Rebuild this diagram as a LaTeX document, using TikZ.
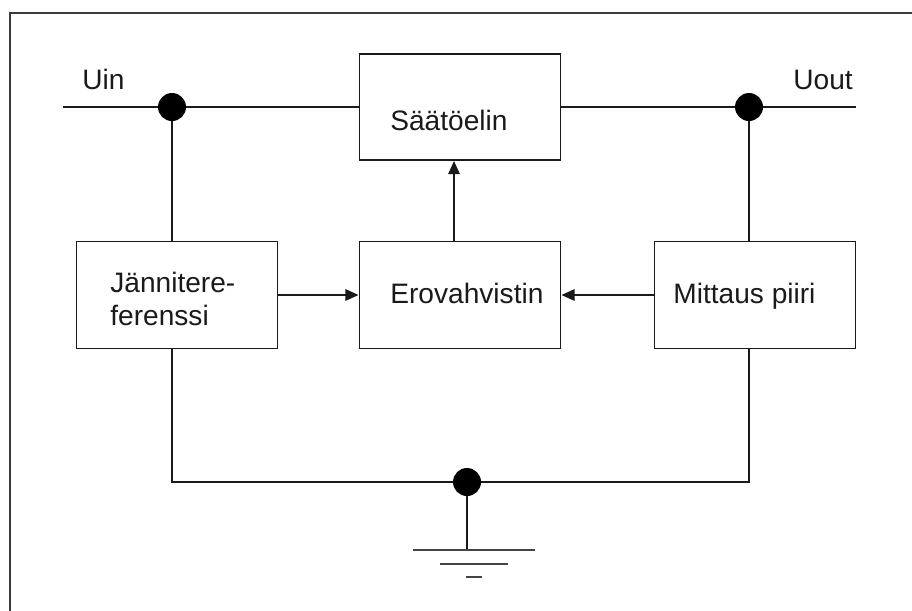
\documentclass[tikz,border=0pt]{standalone}
\usepackage{fontspec}
\setmainfont{Liberation Sans}
\usetikzlibrary{arrows.meta}
\definecolor{wireblack}{HTML}{1A1A1A}
\definecolor{framegray}{HTML}{3A3A3A}
\definecolor{groundgray}{HTML}{444444}

\begin{document}
\begin{tikzpicture}[
  x=0.02cm, y=-0.02cm,
  every node/.style={font=\fontsize{16}{18.8}\selectfont},
  wire/.style={draw=wireblack,line width=1.1pt},
  flow/.style={wire,-{Triangle[length=7.5pt,width=6.5pt]}},
  block/.style={draw=wireblack,line width=1.1pt,minimum width=4.02cm,
    minimum height=2.14cm,inner sep=0pt},
  junction/.style={circle,fill=black,minimum size=0.56cm,inner sep=0pt},
  ground/.style={draw=groundgray,line width=1.6pt},
  lbl/.style={anchor=base west,inner sep=0pt,text=wireblack}
]

% ---- canvas ----
\useasboundingbox (0,0) rectangle (912,610);
\draw[framegray,line width=1.2pt] (10,620) -- (10,13) -- (920,13);

% ---- blocks ----
\node[block,minimum height=2.12cm] (saato) at (460,107) {};
\node[block] (ero)     at (460,295) {};
\node[block] (jannite) at (177,295) {};
\node[block] (mittaus) at (755,295) {};

\node[lbl] (tsaato)    at (390,130) {Säätöelin};
\node[lbl] (tero)      at (390,303) {Erovahvistin};
\node[lbl] (tjannite1) at (110,292) {Jännitere-};
\node[lbl] (tjannite2) at (110,325) {ferenssi};
\node[lbl] (tmittaus)  at (673,303) {Mittaus piiri};

% ---- terminals and junctions ----
\coordinate (uin)  at (63,107);
\coordinate (uout) at (856,107);
\node[lbl] (tuin)  at (82,89)  {Uin};
\node[lbl] (tuout) at (793,89) {Uout};

\node[junction] (jin)  at (172,107) {};
\node[junction] (jout) at (749,107) {};
\node[junction] (jmaa) at (467,482) {};

% ---- main line ----
\draw[wire] (uin) -- (jin) -- (saato.west);
\draw[wire] (saato.east) -- (jout) -- (uout);

% ---- feedback ----
\draw[wire] (jin) -- (jin |- jannite.north);
\draw[wire] (jout) -- (jout |- mittaus.north);
\draw[flow] (jannite) -- (ero);
\draw[flow] (mittaus) -- (ero);
\draw[flow] ([xshift=-0.12cm]ero.north) -- ([xshift=-0.12cm]saato.south);

% ---- common ground ----
\draw[wire] (jin |- jannite.south) |- (jmaa) -| (jout |- mittaus.south);
\coordinate (maa) at (467,550);
\draw[wire] (jmaa) -- (maa);
\draw[ground] (413,550) -- (535,550);
\draw[ground] (440,564) -- (508,564);
\draw[ground] (466,577) -- (482,577);

\end{tikzpicture}
\end{document}
